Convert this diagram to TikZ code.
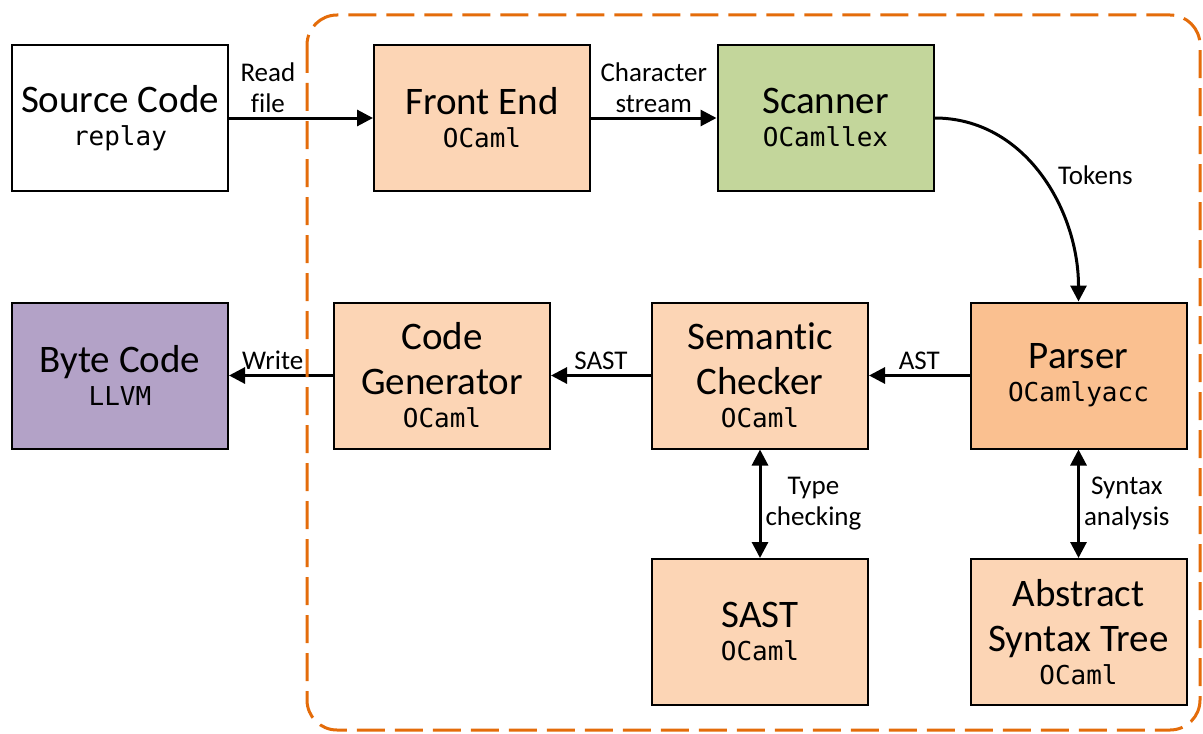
\documentclass[tikz,border=0pt]{standalone}
\usepackage{fontspec}
\setmainfont[Ligatures=NoCommon]{Carlito}
\setmonofont{DejaVu Sans Mono}
\usetikzlibrary{arrows.meta,positioning}
\definecolor{peachfill}{HTML}{FCD5B5}
\definecolor{parserfill}{HTML}{FAC090}
\definecolor{scanfill}{HTML}{C3D69B}
\definecolor{bytefill}{HTML}{B3A2C7}
\definecolor{boundary}{HTML}{E46C0A}
\newcommand{\Impl}[1]{\\[-6pt]{\fontsize{13}{15.5}\ttfamily #1}}
\tikzset{
  stage/.style={rectangle,draw=black,line width=1pt,minimum width=108pt,
    minimum height=73pt,inner sep=0pt,align=center,
    font=\fontsize{19.5}{22.5}\selectfont},
  flow/.style={-{Triangle[length=8pt,width=8pt]},line width=1.5pt},
  both/.style={{Triangle[length=8pt,width=8pt]}-{Triangle[length=8pt,width=8pt]},line width=1.5pt},
  tag/.style={font=\fontsize{13.5}{15.5}\selectfont,align=center,inner sep=2pt}
}

\begin{document}
\begin{tikzpicture}[x=0.5pt,y=-0.5pt]
\useasboundingbox (0,0) rectangle (1203,733);
% top row
\node (source) [stage,fill=white] at (120,118) {Source Code\Impl{replay}};
\node (front) [stage,fill=peachfill] at (482,118) {Front End\Impl{OCaml}};
\node (scanner) [stage,fill=scanfill] at (825.5,118) {Scanner\Impl{OCamllex}};
% middle row
\node (parser) [stage,fill=parserfill] at (1078.5,375.5) {Parser\Impl{OCamlyacc}};
\node (semantic) [stage,fill=peachfill] at (760,375.5) {Semantic\\Checker\Impl{OCaml}};
\node (codegen) [stage,fill=peachfill] at (442,375.5) {Code\\Generator\Impl{OCaml}};
\node (bytecode) [stage,fill=bytefill] at (120,375.5) {Byte Code\Impl{LLVM}};
% bottom row
\node (sast) [stage,fill=peachfill] at (760,632) {SAST\Impl{OCaml}};
\node (ast) [stage,fill=peachfill] at (1078.5,632) {Abstract\\Syntax Tree\Impl{OCaml}};
%
\path[flow] (source) edge node[tag,above,pos=0.27] {Read\\file} (front);
\path[flow] (front) edge node[tag,above] {Character\\stream} (scanner);
\path[flow] (scanner.east) edge[out=0,in=90] node[tag,pos=0.5,right=6pt] {Tokens} (parser.north);
\path[flow] (parser) edge node[tag,above] {AST} (semantic);
\path[flow] (semantic) edge node[tag,above] {SAST} (codegen);
\path[flow] (codegen) edge node[tag,above,pos=0.58] {Write} (bytecode);
\path[both] (semantic) edge node[tag,right] {Type\\checking} (sast);
\path[both] (parser) edge node[tag,right] {Syntax\\analysis} (ast);
% compiler boundary
\draw[boundary,line width=1.5pt,dash pattern=on 14pt off 5pt,rounded corners=15pt]
  (307,15) rectangle (1200,730);
\end{tikzpicture}
\end{document}
